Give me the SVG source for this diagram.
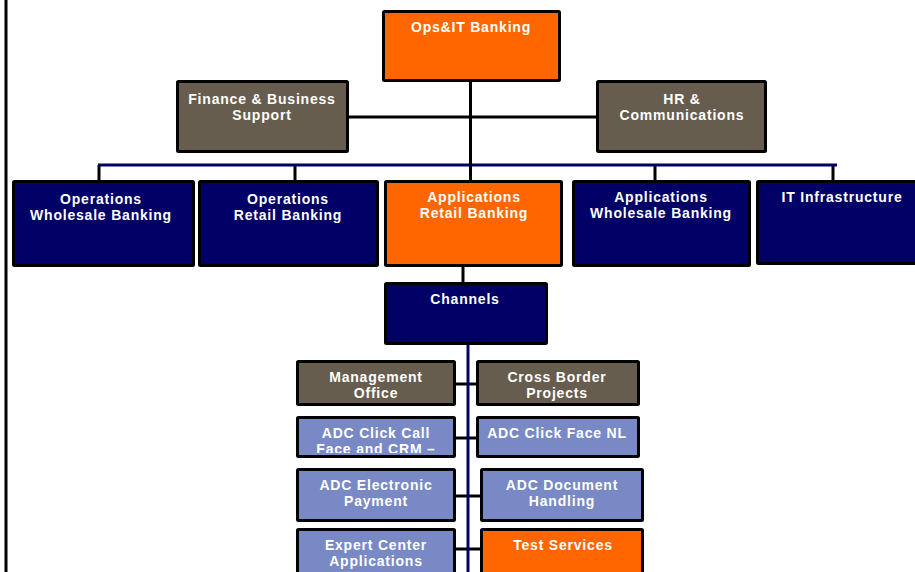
<svg xmlns="http://www.w3.org/2000/svg" width="915" height="572" viewBox="0 0 915 572">
<style>
.box{stroke:#000;stroke-width:3}
.or{fill:#FF6600}
.br{fill:#665D4F}
.nv{fill:#000066}
.lb{fill:#7889C6}
text{font-family:"Liberation Sans",Arial,sans-serif;font-weight:bold;font-size:14px;fill:#fff;text-anchor:middle;letter-spacing:0.8px}
.k{stroke:#000;stroke-width:3;fill:none}
.n{stroke:#000066;stroke-width:3;fill:none}
</style>
<defs>
<clipPath id="clipCall"><rect x="297" y="417" width="158" height="36"/></clipPath>
</defs>
<rect width="915" height="572" fill="#fff"/>
<g id="connectors">
<line class="k" x1="6" y1="0" x2="6" y2="572"/>
<line class="k" x1="349" y1="117" x2="596" y2="117"/>
<line class="k" x1="99" y1="165" x2="99" y2="181"/>
<line class="k" x1="295" y1="165" x2="295" y2="181"/>
<line class="k" x1="655" y1="165" x2="655" y2="181"/>
<line class="k" x1="833" y1="165" x2="833" y2="181"/>
<line class="n" x1="98" y1="165" x2="837" y2="165"/>
<line class="k" x1="470.5" y1="82" x2="470.5" y2="181"/>
<line class="k" x1="463" y1="267" x2="463" y2="283"/>
<line class="k" x1="456" y1="384" x2="476" y2="384"/>
<line class="k" x1="456" y1="438" x2="476" y2="438"/>
<line class="k" x1="456" y1="496" x2="480" y2="496"/>
<line class="k" x1="456" y1="549" x2="480" y2="549"/>
<line class="n" x1="468" y1="345" x2="468" y2="572"/>
</g>
<g id="ops-it-banking"><rect class="box or" x="383.5" y="11.5" width="176" height="69" rx="1"/><text x="471" y="32">Ops&amp;IT Banking</text></g>
<g id="finance"><rect class="box br" x="177.5" y="81.5" width="170" height="70" rx="1"/><text x="262" y="104">Finance &amp; Business</text><text x="262" y="120">Support</text></g>
<g id="hr"><rect class="box br" x="597.5" y="81.5" width="168" height="70" rx="1"/><text x="682" y="104">HR &amp;</text><text x="682" y="120">Communications</text></g>
<g id="ops-wholesale"><rect class="box nv" x="13.5" y="181.5" width="180" height="84" rx="1"/><text x="101" y="204">Operations</text><text x="101" y="220">Wholesale Banking</text></g>
<g id="ops-retail"><rect class="box nv" x="199.5" y="181.5" width="178" height="84" rx="1"/><text x="288" y="204">Operations</text><text x="288" y="220">Retail Banking</text></g>
<g id="app-retail"><rect class="box or" x="385.5" y="181.5" width="176" height="84" rx="1"/><text x="474" y="202">Applications</text><text x="474" y="218">Retail Banking</text></g>
<g id="app-wholesale"><rect class="box nv" x="573.5" y="181.5" width="176" height="84" rx="1"/><text x="661" y="202">Applications</text><text x="661" y="218">Wholesale Banking</text></g>
<g id="it-infra"><rect class="box nv" x="757.5" y="181.5" width="200" height="82" rx="1"/><text x="842" y="202">IT Infrastructure</text></g>
<g id="channels"><rect class="box nv" x="385.5" y="283.5" width="161" height="60" rx="1"/><text x="465" y="304">Channels</text></g>
<g id="mgmt-office"><rect class="box br" x="297.5" y="361.5" width="157" height="43" rx="1"/><text x="376" y="382">Management</text><text x="376" y="398">Office</text></g>
<g id="cross-border"><rect class="box br" x="477.5" y="361.5" width="161" height="43" rx="1"/><text x="557" y="382">Cross Border</text><text x="557" y="398">Projects</text></g>
<g id="adc-click-call"><rect class="box lb" x="297.5" y="417.5" width="157" height="39" rx="1"/><g clip-path="url(#clipCall)"><text x="376" y="438">ADC Click Call</text><text x="376" y="454">Face and CRM –</text></g></g>
<g id="adc-click-face"><rect class="box lb" x="477.5" y="417.5" width="161" height="39" rx="1"/><text x="557" y="438">ADC Click Face NL</text></g>
<g id="adc-electronic"><rect class="box lb" x="297.5" y="469.5" width="157" height="51" rx="1"/><text x="376" y="490">ADC Electronic</text><text x="376" y="506">Payment</text></g>
<g id="adc-document"><rect class="box lb" x="481.5" y="469.5" width="161" height="51" rx="1"/><text x="562" y="490">ADC Document</text><text x="562" y="506">Handling</text></g>
<g id="expert-center"><rect class="box lb" x="297.5" y="529.5" width="157" height="60" rx="1"/><text x="376" y="550">Expert Center</text><text x="376" y="566">Applications</text></g>
<g id="test-services"><rect class="box or" x="481.5" y="529.5" width="161" height="60" rx="1"/><text x="563" y="550">Test Services</text></g>
</svg>
